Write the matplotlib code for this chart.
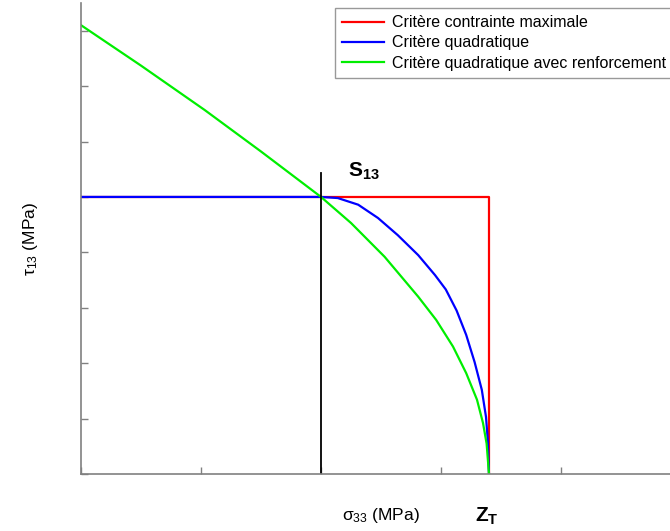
import matplotlib
matplotlib.use("Agg")
import matplotlib.pyplot as plt

plt.rcParams['font.family'] = ['Liberation Sans', 'DejaVu Sans']
plt.rcParams['mathtext.fontset'] = 'custom'
plt.rcParams['mathtext.rm'] = 'Liberation Sans'
plt.rcParams['mathtext.it'] = 'Liberation Sans:italic'
plt.rcParams['mathtext.bf'] = 'Liberation Sans:bold'

# Data (arbitrary units: 1 unit per tick)
S13 = 5.0
ZT = 3.40
sigma0 = 2.0

red_x = [0.0, ZT, ZT]
red_y = [S13, S13, 0.0]

blue_x = [0.0, 2.0, 2.14, 2.31, 2.475, 2.64, 2.81, 2.95, 3.04, 3.13, 3.21,
          3.28, 3.34, 3.375, 3.39, 3.40]
blue_y = [5.0, 5.0, 4.98, 4.86, 4.62, 4.31, 3.95, 3.59, 3.33, 2.95, 2.51,
          2.02, 1.52, 1.03, 0.61, 0.0]

green_x = [0.0, 0.5, 1.03, 1.5, 2.0, 2.25, 2.53, 2.81, 2.96, 3.10, 3.21,
           3.30, 3.35, 3.38, 3.40]
green_y = [8.1, 7.37, 6.57, 5.82, 5.0, 4.53, 3.92, 3.2, 2.78, 2.30, 1.82,
           1.34, 0.92, 0.55, 0.0]

black_x = [sigma0, sigma0]
black_y = [0.0, 5.43]

labels = ["Critère contrainte maximale", "Critère quadratique",
          "Critère quadratique avec renforcement"]

fig = plt.figure(figsize=(6.7, 5.31), dpi=100)
ax = fig.add_axes([81/670, 57/531, 600/670, 471/531])

ax.plot(red_x, red_y, color='#ff0000', lw=1.6, label=labels[0])
ax.plot(blue_x, blue_y, color='#0000ff', lw=1.6, label=labels[1])
ax.plot(green_x, green_y, color='#00ee00', lw=1.6, label=labels[2])
ax.plot(black_x, black_y, color='black', lw=1.3)

ax.set_xlim(0, 5)
ax.set_ylim(0, 8.5)
ax.set_xticks([0, 1, 2, 3, 4, 5])
ax.set_yticks(range(0, 9))
ax.tick_params(direction='in', length=5, width=1, color='#808080',
               labelbottom=False, labelleft=False)
for s in ['top', 'right']:
    ax.spines[s].set_visible(False)
for s in ['left', 'bottom']:
    ax.spines[s].set_color('#808080')
    ax.spines[s].set_linewidth(1.2)

ax.set_xlabel('σ$_{33}$ (MPa)', fontsize=12.5)
ax.xaxis.set_label_coords(0.5, -0.068)
ax.set_ylabel('τ$_{13}$ (MPa)', fontsize=12.5)
ax.yaxis.set_label_coords(-0.068, 0.5)

ax.text(2.225, 5.47, r'$\mathbf{S_{13}}$', fontsize=15, ha='left', va='center')
ax.text(3.28, -0.76, r'$\mathbf{Z_{T}}$', fontsize=15, ha='left', va='center',
        clip_on=False)

leg = ax.legend(loc='upper left', bbox_to_anchor=(335/670, 1 - 8/531),
                bbox_transform=fig.transFigure, fontsize=11.5, frameon=True,
                fancybox=False, handlelength=2.6, handletextpad=0.5,
                labelspacing=0.33, borderpad=0.45, borderaxespad=0)
leg.get_frame().set_edgecolor('#808080')
leg.get_frame().set_linewidth(1.0)

fig.savefig('out.png', dpi=100)
